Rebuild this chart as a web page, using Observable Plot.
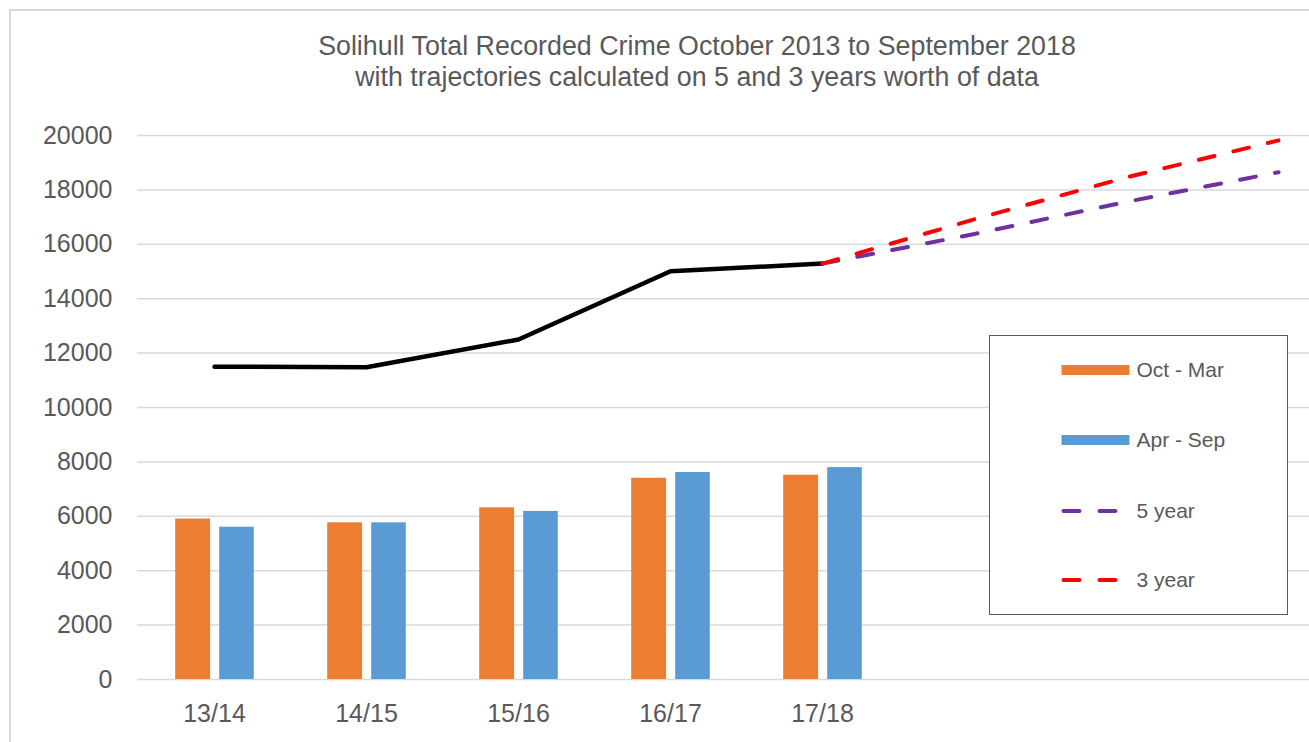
<!DOCTYPE html>
<html>
<head>
<meta charset="utf-8">
<script src="https://cdn.jsdelivr.net/npm/d3@7"></script>
<script src="https://cdn.jsdelivr.net/npm/@observablehq/plot@0.6"></script>
<style>
  html, body { margin: 0; padding: 0; background: #fff; overflow: hidden; width: 1309px; height: 742px; }
  body { font-family: "Liberation Sans", Arial, sans-serif; position: relative; }
  #frame { position: absolute; left: 9px; top: 9px; width: 1400px; height: 800px; border: 2px solid #d9d9d9; box-sizing: border-box; }
  #title { position: absolute; left: 197px; top: 31px; width: 1000px; text-align: center; font-size: 26.8px; line-height: 31px; color: #595959; }
  #chart { position: absolute; left: 0; top: 110px; }
  #legend { position: absolute; left: 989px; top: 335px; width: 299px; height: 280px; border: 1.5px solid #595959; background: #fff; box-sizing: border-box; }
</style>
</head>
<body>
<div id="frame"></div>
<div id="title">Solihull Total Recorded Crime October 2013 to September 2018<br>with trajectories calculated on 5 and 3 years worth of data</div>
<div id="chart"></div>
<div id="legend"></div>
<script>
// ---- data ----
const categories = ["13/14", "14/15", "15/16", "16/17", "17/18"];
const futureCategories = ["18/19", "19/20", "20/21"];
const octMar = [5900, 5760, 6310, 7400, 7510];
const aprSep = [5600, 5760, 6180, 7610, 7790];
const totalCrime = [11500, 11480, 12500, 15010, 15290];
const trajectoryCategories = ["17/18", "18/19", "19/20", "20/21"];
const fiveYear = [15290, 16380, 17560, 18650];
const threeYear = [15290, 16920, 18460, 19820];
const yTicks = [0, 2000, 4000, 6000, 8000, 10000, 12000, 14000, 16000, 18000, 20000];
const seriesNames = ["Oct - Mar", "Apr - Sep", "5 year", "3 year"];

// ---- styles ----
const colors = {oct: "#ED7D31", apr: "#5B9BD5", five: "#7030A0", three: "#FF0000", total: "#000000"};
const textColor = "#595959";
const font = '"Liberation Sans", Arial, sans-serif';

const allCats = categories.concat(futureCategories);
const octData = categories.map((c, i) => ({cat: c, value: octMar[i]}));
const aprData = categories.map((c, i) => ({cat: c, value: aprSep[i]}));
const totalData = categories.map((c, i) => ({cat: c, value: totalCrime[i]}));
const fiveData = trajectoryCategories.map((c, i) => ({cat: c, value: fiveYear[i]}));
const threeData = trajectoryCategories.map((c, i) => ({cat: c, value: threeYear[i]}));

const chart = Plot.plot({
  width: 1309,
  height: 632,
  marginLeft: 137,
  marginRight: 0,
  marginTop: 25,
  marginBottom: 63,
  style: {fontFamily: font, fontSize: "25px", color: textColor, background: "transparent", overflow: "visible"},
  x: {domain: allCats, range: [136.1, 1355.3], padding: 0, label: null},
  y: {domain: [0, 20000], label: null},
  marks: [
    Plot.gridY(yTicks, {stroke: "#d9d9d9", strokeOpacity: 1, strokeWidth: 1.5}),
    Plot.axisY(yTicks, {tickSize: 0, tickPadding: 25, label: null, fill: textColor, fontSize: 25, tickFormat: d => String(d)}),
    Plot.axisX(categories, {tickSize: 0, tickPadding: 25, label: null, fill: textColor, fontSize: 25}),
    Plot.barY(octData, {x: "cat", y: "value", fill: colors.oct, insetLeft: 37.2, insetRight: 79.9}),
    Plot.barY(aprData, {x: "cat", y: "value", fill: colors.apr, insetLeft: 81.2, insetRight: 36.2}),
    Plot.line(totalData, {x: "cat", y: "value", stroke: colors.total, strokeWidth: 4.5, strokeLinejoin: "round", strokeLinecap: "round"}),
    Plot.line(fiveData, {x: "cat", y: "value", stroke: colors.five, strokeWidth: 4, strokeDasharray: "16,19.5", strokeLinecap: "round"}),
    Plot.line(threeData, {x: "cat", y: "value", stroke: colors.three, strokeWidth: 4, strokeDasharray: "16,19.5", strokeLinecap: "round"})
  ]
});
document.getElementById("chart").appendChild(chart);

// ---- legend ----
const legendItems = [
  {label: seriesNames[0], color: colors.oct, type: "bar"},
  {label: seriesNames[1], color: colors.apr, type: "bar"},
  {label: seriesNames[2], color: colors.five, type: "dash"},
  {label: seriesNames[3], color: colors.three, type: "dash"}
];
const ls = d3.create("svg").attr("width", 296).attr("height", 277).style("display", "block");
const rowY = [34, 104, 175, 244];
legendItems.forEach((it, i) => {
  const y = rowY[i];
  if (it.type === "bar") {
    ls.append("rect").attr("x", 71.5).attr("y", y - 5).attr("width", 68).attr("height", 10).attr("fill", it.color);
  } else {
    ls.append("line").attr("x1", 71.5).attr("x2", 127.5).attr("y1", y).attr("y2", y)
      .attr("stroke", it.color).attr("stroke-width", 4).attr("stroke-dasharray", "16,20")
      .attr("stroke-linecap", "round").attr("transform", "translate(2,0)");
  }
  ls.append("text").attr("x", 146.5).attr("y", y).attr("dy", "0.35em")
    .attr("font-family", font).attr("font-size", 21).attr("fill", textColor).text(it.label);
});
document.getElementById("legend").appendChild(ls.node());
</script>
</body>
</html>
